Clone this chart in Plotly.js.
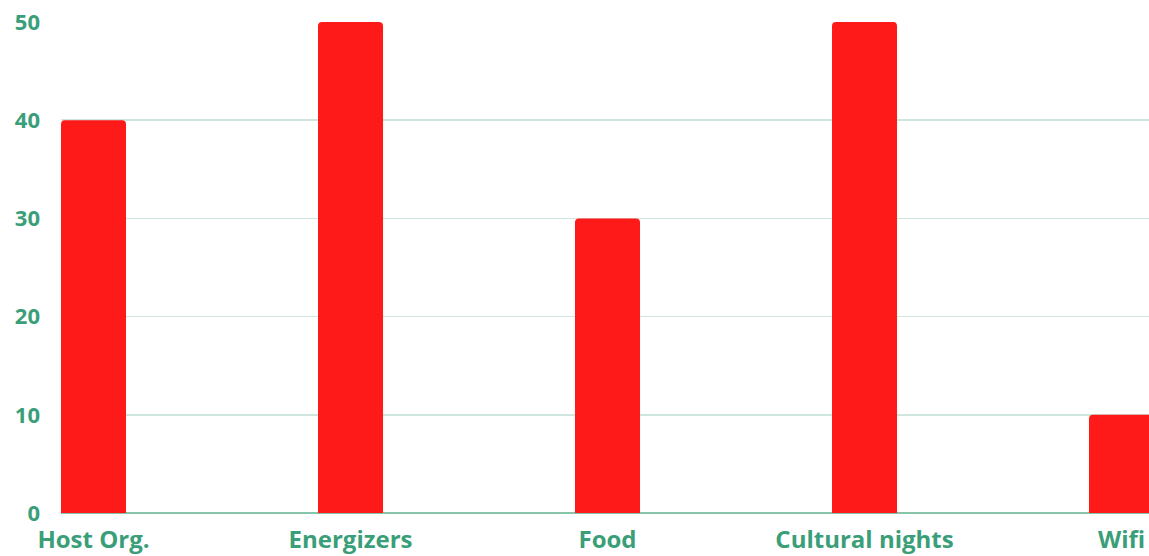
<!DOCTYPE html>
<html>
<head>
<meta charset="utf-8">
<script src="https://cdn.plot.ly/plotly-3.0.1.min.js"></script>
<style>html,body{margin:0;padding:0;background:#fff;}#chart{width:1149px;height:556px;}</style>
</head>
<body>
<div id="chart"></div>
<script>
const categories = ["Host Org.", "Energizers", "Food", "Cultural nights", "Wifi"];
const values = [40, 50, 30, 50, 10];
const yTicks = [0, 10, 20, 30, 40, 50];

const green = "#3a9e78";
const trace = {
  type: "bar",
  x: categories,
  y: values,
  width: 0.253,
  marker: {color: "#ff1a1a", cornerradius: 4, line: {width: 0}},
  hoverinfo: "x+y"
};
const layout = {
  width: 1149, height: 556,
  margin: {l: 61, r: 0, t: 22, b: 43},
  paper_bgcolor: "#fff", plot_bgcolor: "#fff",
  showlegend: false,
  font: {family: "'Open Sans', Lato, sans-serif", color: green},
  xaxis: {
    type: "category",
    range: [-0.1265, 4.107],
    showgrid: false, zeroline: false,
    showline: false,
    ticks: "", ticklabelstandoff: 10,
    tickfont: {size: 24, color: green, family: "'Open Sans', sans-serif", weight: "bold"}
  },
  yaxis: {
    range: [0, 50],
    tickvals: yTicks,
    ticktext: yTicks.map(String),
    showgrid: true, gridcolor: "#cfe6df", gridwidth: 1.5,
    zeroline: true, zerolinecolor: "#86c4ab", zerolinewidth: 2,
    showline: false, ticks: "", ticklabelstandoff: 20,
    tickfont: {size: 22, color: green, family: "'Open Sans', sans-serif", weight: "bold"}
  }
};
Plotly.newPlot("chart", [trace], layout, {displayModeBar: false, staticPlot: true});
</script>
</body>
</html>
